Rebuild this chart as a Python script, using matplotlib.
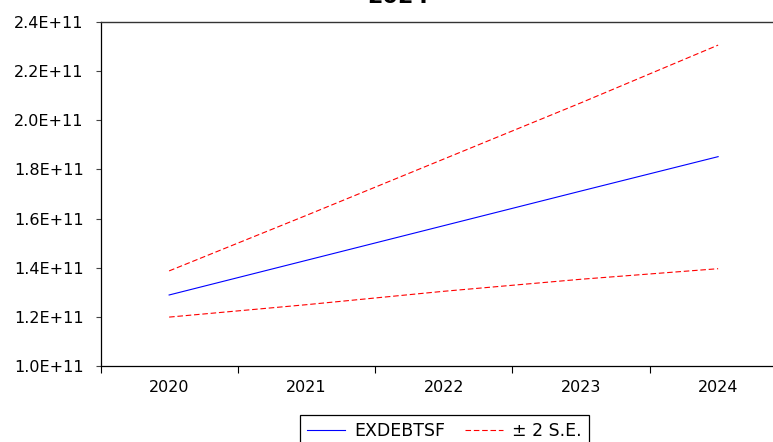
import matplotlib
matplotlib.use("Agg")
import matplotlib.pyplot as plt
from matplotlib.lines import Line2D
from matplotlib.ticker import FixedLocator, FuncFormatter

plt.rcParams['font.family'] = ['DejaVu Sans']

# ---- data ----
years = [2020, 2021, 2022, 2023, 2024]
year_labels = ["2020", "2021", "2022", "2023", "2024"]
forecast = [1.289e11, 1.430e11, 1.571e11, 1.712e11, 1.852e11]
upper = [1.387e11, 1.613e11, 1.842e11, 2.071e11, 2.306e11]
lower = [1.199e11, 1.2495e11, 1.304e11, 1.353e11, 1.396e11]
y_ticks = [1.0e11, 1.2e11, 1.4e11, 1.6e11, 1.8e11, 2.0e11, 2.2e11, 2.4e11]
title_text = "2024"
series_name = "EXDEBTSF"
band_name = "± 2 S.E."

W, H = 773, 442
fig = plt.figure(figsize=(W / 100, H / 100), dpi=100)
left, right, top, bottom = 100.5, 773, 22, 366
ax = fig.add_axes([left / W, 1 - bottom / H, (right - left) / W, (bottom - top) / H])

ax.plot(years, forecast, color='#0000ff', lw=0.8)
ax.plot(years, upper, color='#ff0000', lw=0.8, dashes=(5, 2.5))
ax.plot(years, lower, color='#ff0000', lw=0.8, dashes=(5, 2.5))

ax.yaxis.set_major_locator(FixedLocator(y_ticks))
ax.yaxis.set_major_formatter(FuncFormatter(lambda v, p: f"{v / 1e11:.1f}E+11"))
ax.tick_params(axis='y', direction='out', length=3.6, width=0.8, color='#444444',
               pad=8.6, labelsize=11.5, labelcolor='black')

ax.set_xticks(years)
ax.set_xticklabels(year_labels)
ax.set_xticks([y - 0.5 for y in years], minor=True)
ax.tick_params(axis='x', which='major', length=0, pad=10, labelsize=11.5)
ax.tick_params(axis='x', which='minor', direction='out', length=5, width=0.8, color='black')

ax.set_ylim(y_ticks[0], y_ticks[-1])
ax.set_xlim(years[0] - 0.5, years[0] - 0.5 + (right - left) / 137.25)

ax.spines['right'].set_visible(False)
ax.spines['top'].set_color('#333333')
ax.spines['top'].set_linewidth(1.0)
ax.spines['left'].set_color('black')
ax.spines['left'].set_linewidth(0.9)
ax.spines['bottom'].set_color('black')
ax.spines['bottom'].set_linewidth(0.9)

fig.text(398 / W, 1 - 3 / H, title_text, ha='center', va='baseline',
         fontsize=16, fontweight='bold')

handles = [Line2D([], [], color='#0000ff', lw=0.8),
           Line2D([], [], color='#ff0000', lw=0.8, dashes=(5, 2.5))]
leg = fig.legend(handles, [series_name, band_name], loc='upper center',
                 bbox_to_anchor=(444.5 / W, 1 - 415 / H), ncol=2,
                 fontsize=12.5, frameon=True, fancybox=False, framealpha=1,
                 edgecolor='black', borderpad=0.4, handlelength=2.2,
                 handletextpad=0.55, columnspacing=1.1, borderaxespad=0)
leg.get_frame().set_linewidth(0.9)

fig.savefig("out.png", dpi=100)
